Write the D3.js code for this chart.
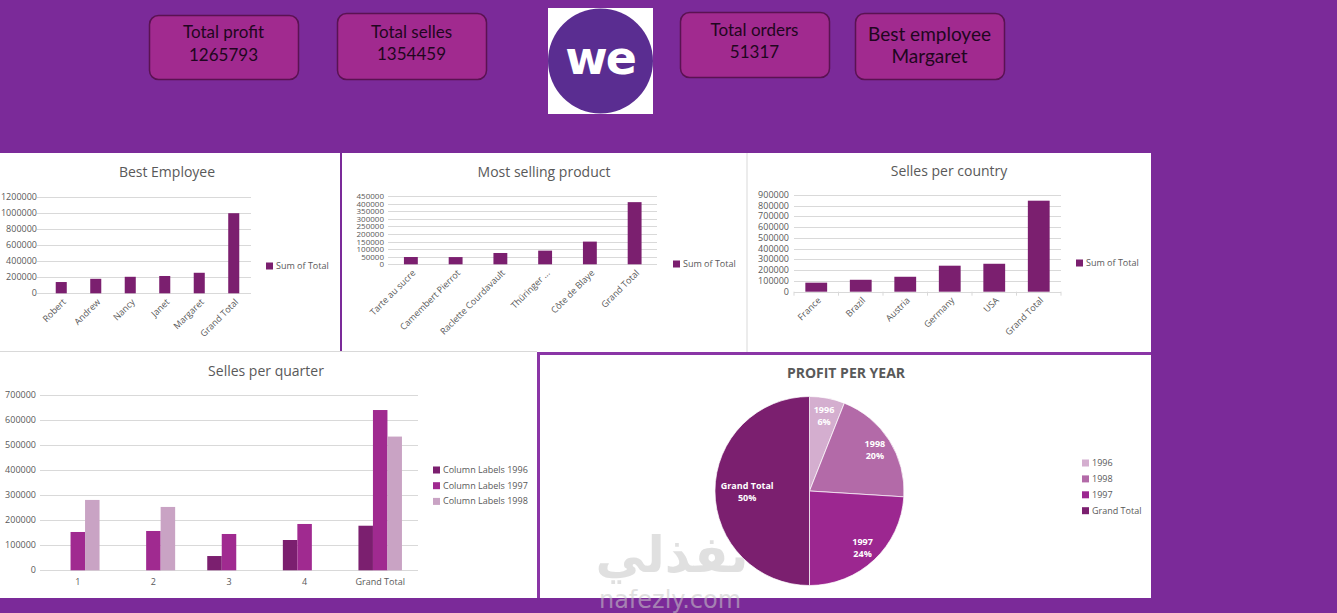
<!DOCTYPE html>
<html>
<head>
<meta charset="utf-8">
<script src="https://cdn.jsdelivr.net/npm/d3@7"></script>
<style>
  body { margin: 0; background: #7b2a99; }
  svg { display: block; }
  text { font-family: "Open Sans", sans-serif; }
</style>
</head>
<body>
<div id="dash"></div>
<script>
// KPI cards
const kpiLabels = ['Total profit', 'Total selles', 'Total orders', 'Best employee'];
const kpiValues = ['1265793', '1354459', '51317', 'Margaret'];

// Best Employee
const employees = ['Robert', 'Andrew', 'Nancy', 'Janet', 'Margaret', 'Grand Total'];
const employeeTotals = [140000, 180000, 205000, 215000, 255000, 995000];

// Most selling product
const products = ['Tarte au sucre', 'Camembert Pierrot', 'Raclette Courdavault', 'Thüringer ...', 'Côte de Blaye', 'Grand Total'];
const productTotals = [48000, 47500, 74500, 90000, 149500, 409500];

// Selles per country
const countries = ['France', 'Brazil', 'Austria', 'Germany', 'USA', 'Grand Total'];
const countryTotals = [84000, 111000, 139000, 242000, 260000, 847000];

// Selles per quarter
const quarters = ['1', '2', '3', '4', 'Grand Total'];
const years = ['1996', '1997', '1998'];
const sales1996 = [0, 0, 57000, 121000, 178000];
const sales1997 = [153000, 157000, 145000, 185000, 640000];
const sales1998 = [281000, 253000, 0, 0, 534000];

// Profit per year (pie)
const pieLabels = ['1996', '1998', '1997', 'Grand Total'];
const pieValues = [76000, 253000, 304000, 633000];

const W = 1337, H = 613;
const BG = '#7b2a99';
const BAR = '#7b1f6f';
const GRID = '#d9d9d9';
const TXT = '#595959';

const svg = d3.select('#dash').append('svg')
    .attr('width', W)
    .attr('height', H);

svg.append('rect').attr('width', W).attr('height', H).attr('fill', BG);

// ---- KPI cards
const cards = [
    { x: 149, y: 15, w: 149, h: 64, fs: 17, a: -9, b: 14 },
    { x: 337, y: 13, w: 149, h: 66, fs: 17, a: -8, b: 14 },
    { x: 680, y: 12, w: 149, h: 65, fs: 17, a: -8.5, b: 13.5 },
    { x: 855, y: 13, w: 149, h: 66, fs: 19, a: -5.5, b: 17 }
];
cards.forEach((c, i) => {
    const g = svg.append('g').attr('transform', `translate(${c.x},${c.y})`);
    g.append('rect')
        .attr('x', 0.5).attr('y', 0.5)
        .attr('width', c.w).attr('height', c.h)
        .attr('rx', 9)
        .attr('fill', '#a12a8f')
        .attr('stroke', '#5a1252')
        .attr('stroke-width', 1.5);
    g.append('text')
        .attr('x', c.w / 2).attr('y', c.h / 2 + c.a)
        .attr('text-anchor', 'middle')
        .style('font-family', 'Lato, sans-serif')
        .style('font-size', c.fs + 'px')
        .attr('fill', '#1f0620')
        .text(kpiLabels[i]);
    g.append('text')
        .attr('x', c.w / 2).attr('y', c.h / 2 + c.b)
        .attr('text-anchor', 'middle')
        .style('font-family', 'Lato, sans-serif')
        .style('font-size', c.fs + 'px')
        .attr('fill', '#1f0620')
        .text(kpiValues[i]);
});

// ---- logo
const logo = svg.append('g').attr('transform', 'translate(548,8)');
logo.append('rect').attr('width', 105).attr('height', 106).attr('fill', '#fff');
logo.append('circle').attr('cx', 52.5).attr('cy', 53).attr('r', 52.5).attr('fill', '#5a2d91');
logo.append('text')
    .attr('x', 52).attr('y', 66)
    .attr('text-anchor', 'middle')
    .style('font-family', '"DejaVu Sans", sans-serif')
    .style('font-size', '46px')
    .style('font-weight', 'bold')
    .style('letter-spacing', '-2px')
    .attr('fill', '#fff')
    .text('we');

// ---- panels
svg.append('rect').attr('x', 0).attr('y', 153).attr('width', 340).attr('height', 199).attr('fill', '#fff');
svg.append('rect').attr('x', 342).attr('y', 153).attr('width', 809).attr('height', 199).attr('fill', '#fff');
svg.append('line').attr('x1', 747).attr('x2', 747).attr('y1', 153).attr('y2', 352).attr('stroke', GRID);
svg.append('rect').attr('x', 0).attr('y', 352).attr('width', 537).attr('height', 246).attr('fill', '#fff');
svg.append('line').attr('x1', 0).attr('x2', 537).attr('y1', 351.5).attr('y2', 351.5).attr('stroke', GRID);
svg.append('rect').attr('x', 537).attr('y', 352).attr('width', 614).attr('height', 246).attr('fill', '#8a35a6');
svg.append('rect').attr('x', 540).attr('y', 355).attr('width', 611).attr('height', 243).attr('fill', '#fff');

function title(x, y, t, bold) {
    svg.append('text')
        .attr('x', x).attr('y', y)
        .attr('text-anchor', 'middle')
        .style('font-size', '14px')
        .style('font-weight', bold ? 'bold' : 'normal')
        .attr('fill', TXT)
        .text(t);
}

function legendItem(x, y, color, label) {
    svg.append('rect').attr('x', x).attr('y', y - 3.5).attr('width', 7).attr('height', 7).attr('fill', color);
    svg.append('text')
        .attr('x', x + 10).attr('y', y + 3)
        .style('font-size', '9px')
        .attr('fill', TXT)
        .text(label);
}

function yGrid(yScale, ticks, x0, x1, labelX, fs) {
    const g = svg.append('g');
    g.selectAll('line').data(ticks).enter().append('line')
        .attr('x1', x0).attr('x2', x1)
        .attr('y1', d => Math.round(yScale(d)) + 0.5)
        .attr('y2', d => Math.round(yScale(d)) + 0.5)
        .attr('stroke', GRID);
    g.selectAll('text').data(ticks).enter().append('text')
        .attr('x', labelX)
        .attr('y', d => yScale(d) + 3)
        .attr('text-anchor', 'end')
        .style('font-size', (fs || 9) + 'px')
        .attr('fill', TXT)
        .text(d => d);
}

function barChart(o) {
    const y = d3.scaleLinear().domain([0, o.max]).range([o.y0, o.y1]);
    const x = d3.scaleBand().domain(o.cats).range([o.xr0, o.xr1]);
    yGrid(y, d3.range(0, o.max + 1, o.step), o.gx0, o.xr1, o.labelX, o.tickFs);
    const bw = x.bandwidth() * o.frac;
    svg.append('g').selectAll('rect')
        .data(o.vals).enter().append('rect')
        .attr('x', (d, i) => x(o.cats[i]) + (x.bandwidth() - bw) / 2)
        .attr('y', d => y(d))
        .attr('width', bw)
        .attr('height', d => y(0) - y(d))
        .attr('fill', BAR);
    if (o.tickLines) {
        svg.append('g').selectAll('line')
            .data(d3.range(o.cats.length + 1)).enter().append('line')
            .attr('x1', i => o.xr0 + i * x.step())
            .attr('x2', i => o.xr0 + i * x.step())
            .attr('y1', y(0)).attr('y2', y(0) + 4)
            .attr('stroke', GRID);
    }
    svg.append('g').selectAll('text')
        .data(o.cats).enter().append('text')
        .attr('transform', d => `translate(${x(d) + x.bandwidth() / 2 + 3},${y(0) + 7}) rotate(-45)`)
        .attr('text-anchor', 'end')
        .attr('dy', '0.35em')
        .style('font-size', '9px')
        .attr('fill', TXT)
        .text(d => d);
    title(o.tx, o.ty, o.title);
    legendItem(o.lx, o.ly, BAR, 'Sum of Total');
}

barChart({
    title: 'Best Employee', tx: 167, ty: 177,
    cats: employees, vals: employeeTotals, max: 1200000, step: 200000,
    y0: 293.3, y1: 196.7, xr0: 44, xr1: 251, gx0: 37, labelX: 37, frac: 0.32,
    lx: 266, ly: 266
});

barChart({
    title: 'Most selling product', tx: 544, ty: 177,
    cats: products, vals: productTotals, max: 450000, step: 50000,
    y0: 264.3, y1: 196, xr0: 388.5, xr1: 657, gx0: 388, labelX: 384, frac: 0.31,
    tickFs: 8, lx: 673, ly: 264
});

barChart({
    title: 'Selles per country', tx: 949, ty: 176,
    cats: countries, vals: countryTotals, max: 900000, step: 100000,
    y0: 291.7, y1: 195, xr0: 794, xr1: 1061, gx0: 794, labelX: 789, frac: 0.49,
    tickLines: true, lx: 1076, ly: 263
});

// ---- Selles per quarter (grouped)
const qColors = ['#7b1f6f', '#a02a90', '#c9a3c4'];
const qSeries = [sales1996, sales1997, sales1998];
const qy = d3.scaleLinear().domain([0, 700000]).range([570.3, 395]);
const qx = d3.scaleBand().domain(quarters).range([40, 418]);
const qInner = d3.scaleBand().domain(years).range([0, 43.5]);
yGrid(qy, d3.range(0, 700001, 100000), 40, 418, 36);
qSeries.forEach((vals, s) => {
    svg.append('g').selectAll('rect')
        .data(vals).enter().append('rect')
        .attr('x', (d, i) => qx(quarters[i]) + qx.bandwidth() / 2 - 21.75 + qInner(years[s]))
        .attr('y', d => qy(d))
        .attr('width', qInner.bandwidth())
        .attr('height', d => qy(0) - qy(d))
        .attr('fill', qColors[s]);
});
svg.append('g').selectAll('text')
    .data(quarters).enter().append('text')
    .attr('x', d => qx(d) + qx.bandwidth() / 2)
    .attr('y', 585)
    .attr('text-anchor', 'middle')
    .style('font-size', '9px')
    .attr('fill', TXT)
    .text(d => d);
title(266, 376, 'Selles per quarter');
years.forEach((yr, i) => legendItem(433, 470 + i * 15.7, qColors[i], 'Column Labels ' + yr));

// ---- watermark (behind pie)
const wm = svg.append('g').attr('opacity', 0.55);
wm.append('text')
    .attr('x', 672).attr('y', 572)
    .attr('text-anchor', 'middle')
    .style('font-family', '"DejaVu Sans", sans-serif')
    .style('font-size', '50px')
    .style('font-weight', 'bold')
    .attr('fill', '#c8c8c8')
    .text('نفذلي');

// ---- Profit per year (pie)
const pieColors = ['#d4aecf', '#b36aa8', '#9c2790', '#7b1f6f'];
const cx = 809.5, cy = 491, r = 94.5;
const pie = d3.pie().sort(null).value(d => d)(pieValues);
const arc = d3.arc().innerRadius(0).outerRadius(r);
const pg = svg.append('g').attr('transform', `translate(${cx},${cy})`);
pg.selectAll('path').data(pie).enter().append('path')
    .attr('d', arc)
    .attr('fill', (d, i) => pieColors[i])
    .attr('stroke', '#fff')
    .attr('stroke-width', 0.7);
const total = d3.sum(pieValues);
pie.forEach((d, i) => {
    const lr = d.value / total > 0.4 ? r * 0.66 : r * 0.82;
    const la = d3.arc().innerRadius(lr).outerRadius(lr);
    const [lx, ly] = la.centroid(d);
    const t = pg.append('text')
        .attr('text-anchor', 'middle')
        .style('font-size', '9px')
        .style('font-weight', 'bold')
        .attr('fill', '#fff');
    t.append('tspan').attr('x', lx).attr('y', ly - 2).text(pieLabels[i]);
    t.append('tspan').attr('x', lx).attr('y', ly + 10).text(Math.round(d.value / total * 100) + '%');
});
title(846, 378, 'PROFIT PER YEAR', true);
pieLabels.forEach((l, i) => legendItem(1082, 463 + i * 15.9, pieColors[i], l));

wm.append('text')
    .attr('x', 670).attr('y', 608)
    .attr('text-anchor', 'middle')
    .style('font-family', '"DejaVu Sans", sans-serif')
    .style('font-size', '24px')
    .attr('fill', '#c8c8c8')
    .text('nafezly.com');
</script>
</body>
</html>
